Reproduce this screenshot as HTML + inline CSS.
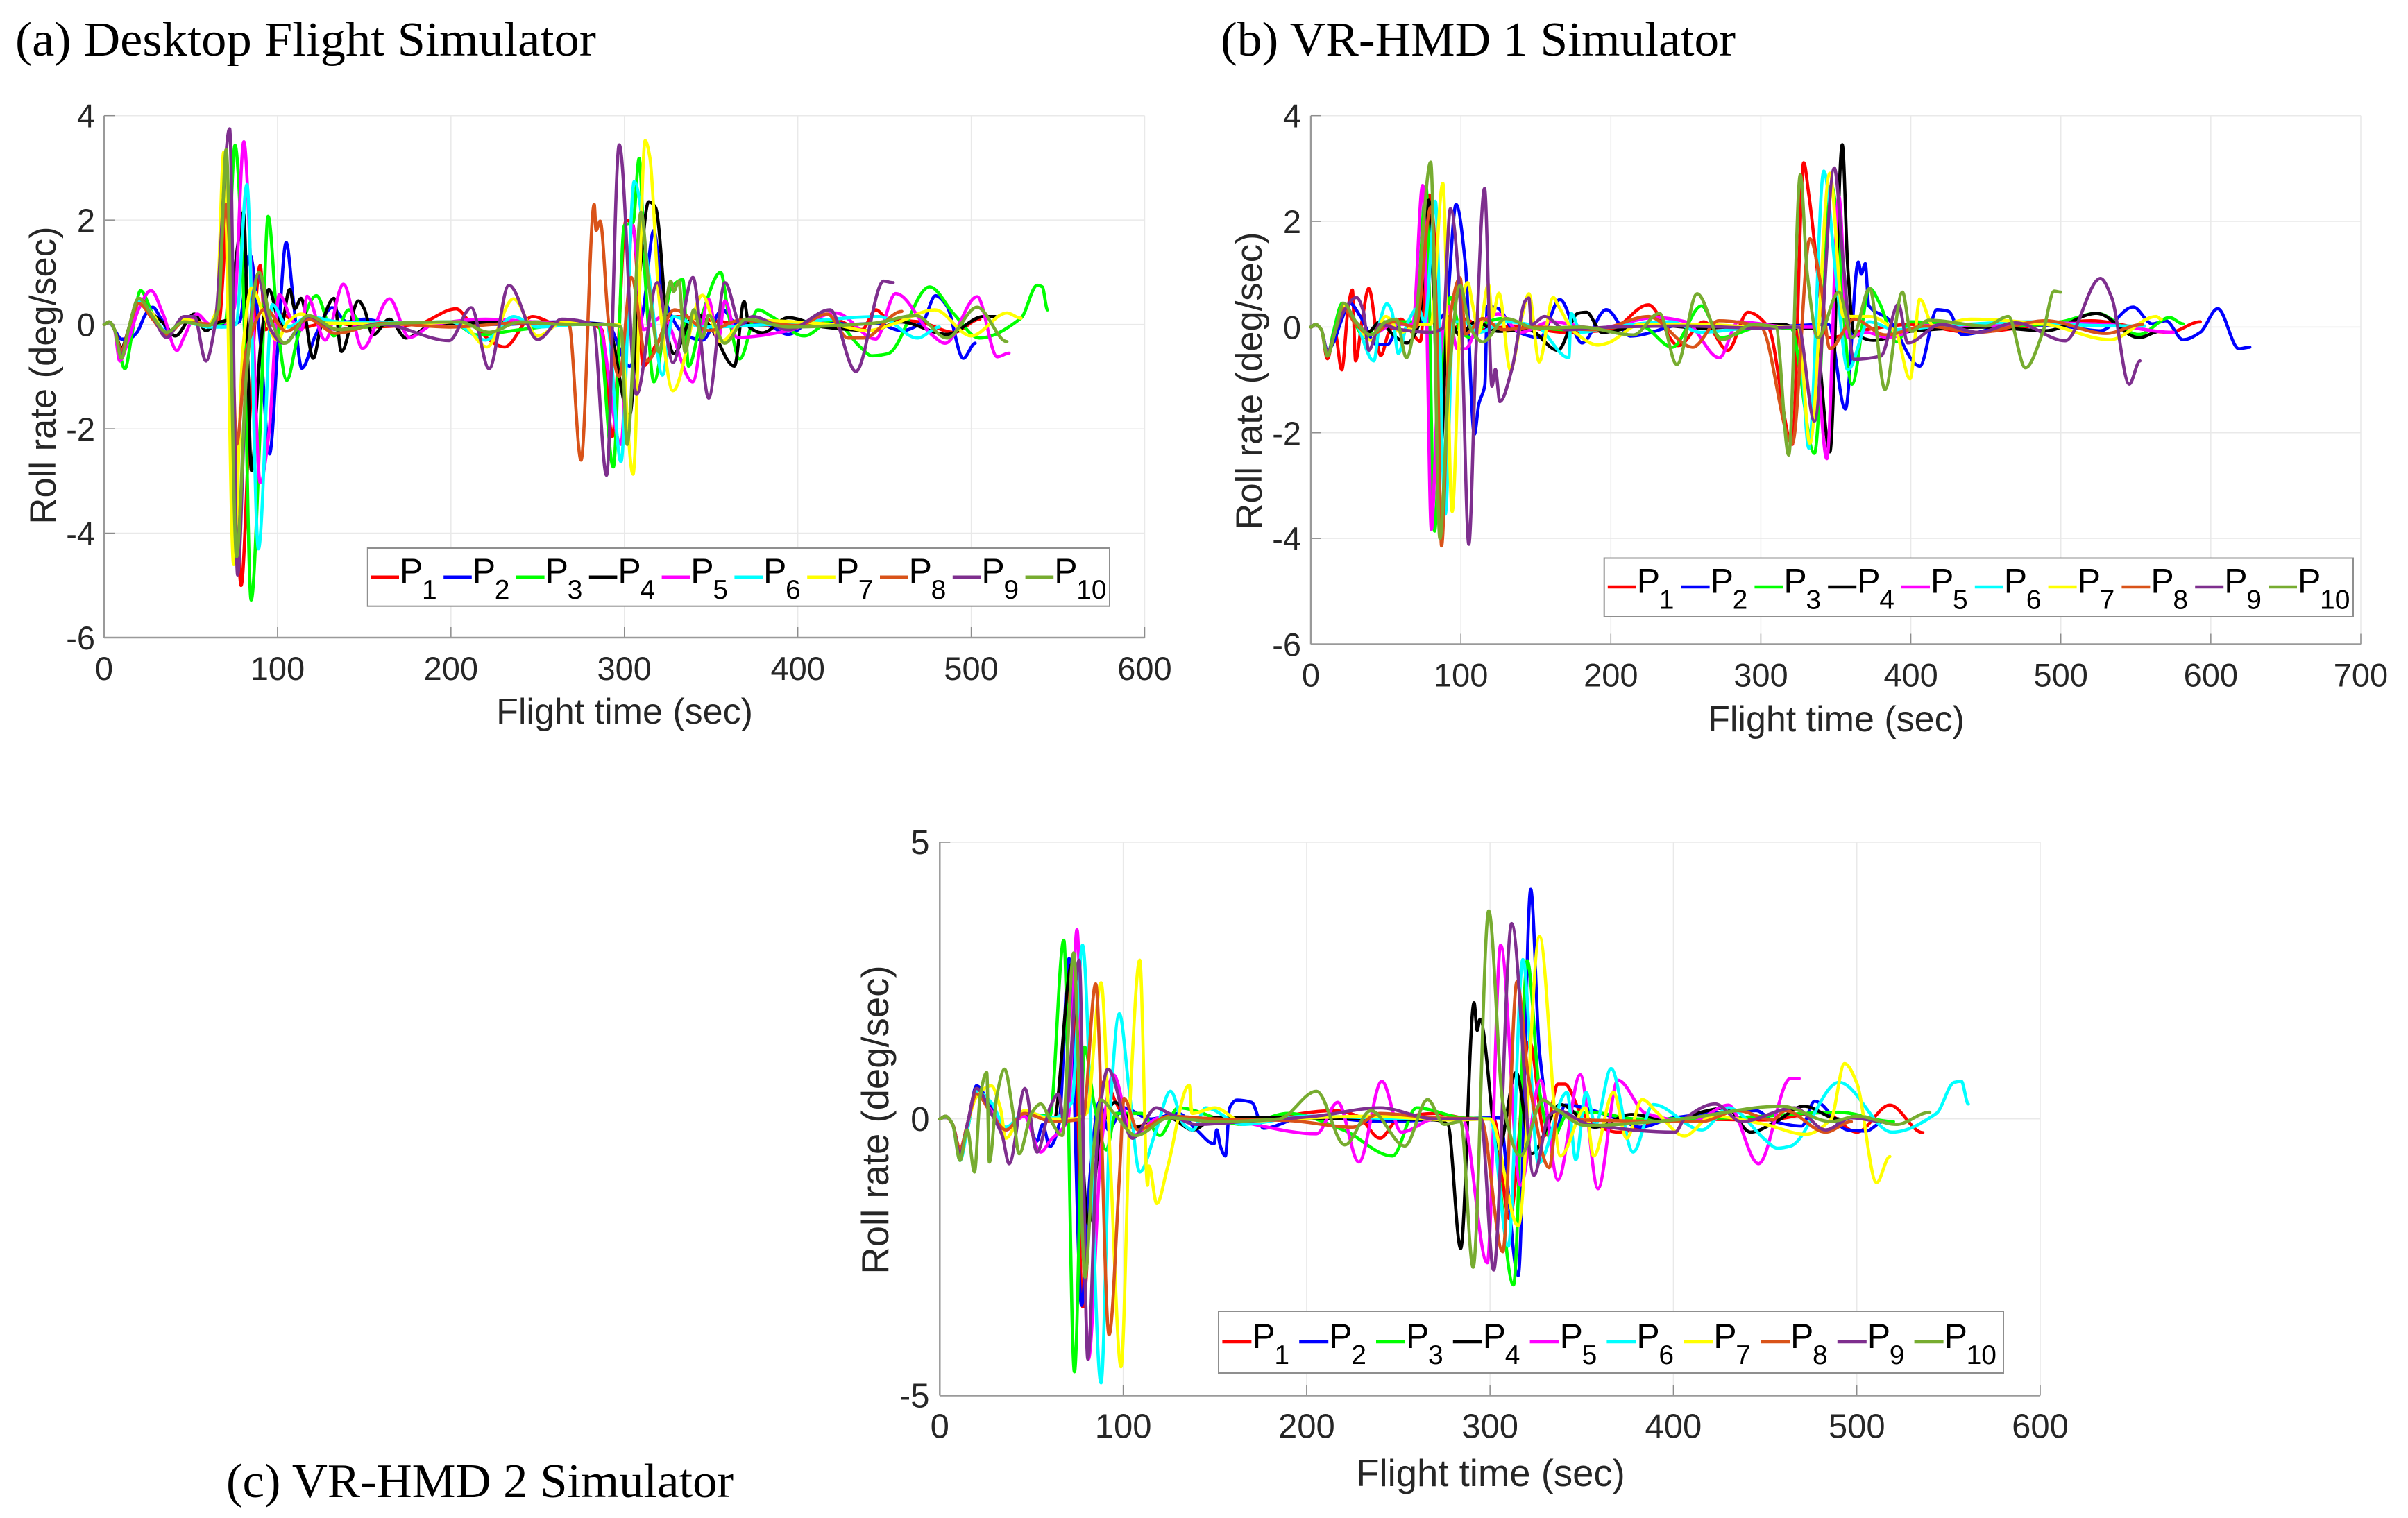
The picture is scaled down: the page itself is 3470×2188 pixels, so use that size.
<!DOCTYPE html>
<html lang="en">
<head>
<meta charset="utf-8">
<title>Roll rate comparison</title>
<style>
html,body{margin:0;padding:0;background:#fff;}
svg{display:block;}
text{font-family:"Liberation Sans",sans-serif;}
.ttl{font-family:"Liberation Serif",serif;font-size:70px;fill:#000;}
</style>
</head>
<body>
<svg id="fig" xmlns="http://www.w3.org/2000/svg" width="3470" height="2188" viewBox="0 0 3470 2188">
<rect x="0" y="0" width="3470" height="2188" fill="#fff"/>
<text class="ttl" x="22" y="80" textLength="837" lengthAdjust="spacingAndGlyphs">(a) Desktop Flight Simulator</text>
<text class="ttl" x="1759" y="80" textLength="742" lengthAdjust="spacingAndGlyphs">(b) VR-HMD 1 Simulator</text>
<text class="ttl" x="326" y="2158" textLength="731" lengthAdjust="spacingAndGlyphs">(c) VR-HMD 2 Simulator</text>
</svg>
<script>
const legendLabels=["1","2","3","4","5","6","7","8","9","10"];
const seriesColors=["#ff0000","#0000ff","#00ff00","#000000","#ff00ff","#00ffff","#ffff00","#d95319","#7e2f8e","#77ac30"];
const xTicksA=[0,100,200,300,400,500,600];
const yTicksA=[4,2,0,-2,-4,-6];
const xTicksB=[0,100,200,300,400,500,600,700];
const yTicksB=[4,2,0,-2,-4,-6];
const xTicksC=[0,100,200,300,400,500,600];
const yTicksC=[5,0,-5];

/* Panel (a) desktop */
const aP1T=[0,3,6,10,14,20,28,36,45,60,66,72,75,79,84,90,93,102,115,130,150,180,203,212,231,247,262,280,287,293,301,305,311,318,330,345,370,400,420,437,445,452,470,490,505];
const aP1V=[0,.05,-.1,-.6,-.1,.5,.2,-.2,.05,0,0,2.4,-1.5,-5,-1.8,1.13,-.1,.2,-.05,.05,-.05,0,.3,0,-.43,.15,0,0,-.1,-2.15,2,1.9,-.8,-.4,.15,.1,0,-.05,.1,-.1,.28,.1,.05,-.15,.1];
const aP2T=[0,3,6,10,14,19,24,28,33,38,45,60,72,78,84,90,95.4,100,105,109,114,122,131.5,140,150,165,200,230,262,290,303,311,317,322,335,345,356.6,365,380,394.5,410,430,445,460,472,479.4,486,495.4,502.3];
const aP2V=[0,.05,-.1,-.28,-.28,-.15,.2,.33,.1,-.15,.05,0,0,.05,1.34,-.3,-2.48,-.5,1.57,.5,-.84,-.2,.32,.05,.1,.02,.02,0,.05,0,-.8,.3,1.8,.6,-.2,-.3,.28,0,.02,-.19,.1,0,.02,-.12,.05,.55,.35,-.65,-.36];
const aP3T=[0,3,6,12,16,21,28,36,45,60,70,75.5,80,84.8,90,94.6,100,105.3,112,122.4,132.6,141,150,165,200,215,240,270,285,293.6,300,305,308.5,312,317,327,333.7,337,345,355.5,360,366.5,377,385,403.7,420,436,442.7,452,476,490,504.6,528.7,538,541,544];
const aP3V=[0,.05,-.1,-.85,-.2,.65,.2,-.2,.05,0,.05,3.43,1,-5.28,-2,2.07,0,-1.07,-.2,.55,-.22,.28,-.05,0,.05,-.2,-.1,0,0,-2.73,1.9,1.95,3.18,.9,-1.1,.7,.86,-.8,.2,1,.2,-.66,.28,.15,-.22,.08,-.43,-.6,-.56,.72,.2,-.26,.12,.75,.72,.28];
const aP4T=[0,3,6,10,14,20,28,35,41,52,58.7,65,72,77,80.4,85,90,95,102,107,110,113.6,120.6,125,132.6,136.8,146.7,150,155,164.5,174,190,240,290,303,309,314,318,325.7,328.4,340.6,349,363.5,369,372,379.6,394.5,415,442.7,459,486,507,513.8];
const aP4V=[0,.05,-.1,-.46,-.1,.45,.2,0,-.22,.2,-.12,.03,.1,1.5,2.15,-2.8,-.5,.67,-.04,.67,.3,.5,-.65,-.04,.5,-.52,.45,.3,-.2,.1,-.26,0,.05,0,-1.75,1,2.35,2.24,-.33,-.56,.22,-.02,-.8,.44,-.05,-.16,.13,-.05,-.12,.05,-.19,.15,.15];
const aP5T=[0,3,6,9,14,20,27,34,42,46,53.6,60,68,75,80.6,85,90,95,101,108,114,117,127.5,138,149,164.5,176,190,220,262,285,298,304.6,311,322,339.4,348.6,354,358,365,394.5,422,445,456.4,478,485,503.4,515,521.8];
const aP5V=[0,.05,-.1,-.7,-.3,.3,.65,.2,-.5,-.25,.2,.02,-.05,.3,3.5,.8,-3.03,-2.1,.57,.1,-.1,.54,-.3,.77,-.46,.49,-.25,0,.1,.02,0,-2.3,1.9,-.1,.15,-1.1,.48,-.33,.45,-.25,-.12,.22,-.28,.59,-.22,-.36,.53,-.62,-.55];
const aP6T=[0,3,6,10,14,20,28,36,46,60,70,76,82.4,89,97,106,118,135,160,200,220,236,250,275,290,298,305.7,314,322,328,345,385,447,469,481.6];
const aP6V=[0,.05,-.1,-.55,-.1,.45,.2,-.15,.05,-.05,-.05,0,2.68,-4.3,.38,-.05,.15,.05,.03,.05,-.3,.15,-.05,0,0,-2.63,2.74,1,-.97,.15,-.05,0,.15,-.26,-.05];
const aP7T=[0,3,6,10,14,20,28,36,46,60,65,69,74.7,80,85,92,99.7,106,113.6,125,140,170,205,220.7,236,250,265,285,297,305,312,314.7,320,328,345,355.5,370,420,440,456,479,500,520.6,528.7];
const aP7V=[0,.05,-.1,-.55,-.1,.4,.2,-.2,.1,0,.3,3.3,-4.6,-.5,.7,.2,-.3,.05,.2,.03,.02,0,.05,-.43,.49,-.22,.05,0,0,-2.87,3.52,3.2,.5,-1.27,.56,-.33,.08,0,-.12,.02,.28,-.22,.22,.12];
const aP8T=[0,3,6,10,14,20,28,36,46,64,70.4,73,76.4,82,93,105,118,133.5,160,200,240,268,275,282.6,283.7,286,291,297,304,313,329,348.6,367,400,417,429,438,460];
const aP8V=[0,.05,-.1,-.5,-.1,.4,.1,-.2,.05,0,2.3,1,-2.3,-.5,.3,-.13,.1,-.17,.02,-.05,.03,0,-2.6,2.3,1.8,1.98,0,-1,.9,-.7,.28,-.12,.08,-.02,.2,-.26,-.26,.25];
const aP9T=[0,3,6,10,14,20,28,36,46,52,58.7,64,72.4,77,82,88.4,96,103.6,118,134,160,199,211.7,222,233.4,250,264,282,289.7,297,307,319,328,339.5,348.6,358,367,374,394.5,418.6,433.5,449.5,455];
const aP9V=[0,.05,-.1,-.6,-.1,.5,.15,-.25,.15,.15,-.7,0,3.75,-4.8,-1,.93,-.1,-.36,.15,-.1,0,-.31,.32,-.85,.75,-.29,.1,0,-2.89,3.44,-1.34,.8,-.73,.9,-1.41,.8,0,.15,-.1,.28,-.9,.83,.8];
const aP10T=[0,3,6,10,14,20,28,36,46,60,66,70.4,76.4,82,89.3,96,104.3,117.6,135,165,205,222,240,265,290,298,301.6,309.6,314,320,326.8,328.4,331.4,335,340,345,348.6,357.8,370,395,442.7,468,486,503.4,520.6];
const aP10V=[0,.05,-.1,-.65,-.1,.5,.15,-.15,.05,-.03,.3,3.35,-4.45,-1,1,.1,-.36,.17,-.1,.02,.05,-.15,.05,0,0,-.05,-2.3,2.15,.8,-.53,.83,.63,.83,-.53,.28,-.26,.18,-.36,.1,-.05,.02,.17,-.26,.33,-.33];

/* Panel (b) VR-HMD 1 */
const bP1T=[0,3,7,11,16,20.6,25,27.7,29.8,34,38.6,46.6,52,60,66,73,79,84,88.4,94,103,115,135,170,200,225,245,262,278,291.4,305,321,328.6,332,345,370,400,440,490,520,572.6,593];
const bP1V=[0,.05,-.05,-.6,-.1,-.81,.4,.7,-.64,.1,.73,-.54,-.1,.15,-.05,-.27,2.5,1,-2.75,-.2,.15,-.05,.02,-.1,-.05,.42,-.35,.1,-.44,.28,0,-2.22,3.11,2.5,-.2,-.05,.05,-.1,.05,.12,-.1,.1];
const bP2T=[0,3,7,11,15,20,26,33,44,51,60,72,82,90,96.8,103,109,112,116,117.6,125,135,152.8,166,180.8,197,213,250,300,345,356.4,365,367,369.6,372,385,406,417.4,425,434,470,500,526.4,548.2,561,570,581.5,593,604.6,618.7,626];
const bP2V=[0,.05,-.05,-.45,-.3,.1,.45,.2,-.33,-.33,.1,.1,.1,.3,2.32,1.2,-2.03,-1.45,-1.1,.39,.35,-.05,-.2,.52,-.3,.33,-.17,.05,0,.05,-1.55,1.23,1,1.2,.4,.15,-.74,.33,.3,-.14,.05,.02,-.07,.38,.06,.12,-.24,-.1,.35,-.41,-.38];
const bP3T=[0,3,7,11,15,21,28,36,46,60,70,76.8,82.5,87,93,100,107,118,127,145,170,220,241,260.5,273,300,320,335.7,347,360.8,372.6,379,390.5,400,430,470,500,524,552,572.6,581.5];
const bP3V=[0,.05,-.05,-.55,-.1,.45,.15,-.2,.1,.1,.1,2.67,-3.86,-1,.56,-.1,-.2,.1,.16,.03,-.05,.02,-.38,.4,-.2,0,-.03,-2.39,2.68,-1.08,.73,.46,-.28,.1,.05,.02,.1,.26,-.14,.18,.06];
const bP4T=[0,3,7,11,16,22,30,38,46,55,64,72,78.6,82,86,91.4,99,110,125,145,164.6,178,183.8,194,225,260,290,315,325,336,346,354.3,358,362,375,400,450,490,523.8,552,566];
const bP4V=[0,.05,-.05,-.5,-.1,.4,.1,-.1,.1,-.15,-.3,.05,2.4,.5,-2.7,.2,-.15,.1,-.08,-.05,-.44,.26,.28,-.1,.05,-.02,.02,.05,-.03,-.03,-2.36,3.45,1.1,-.1,-.25,-.08,0,-.07,.26,-.2,-.08];
const bP5T=[0,3,7,11,16,22,30,40,55,68,74.5,77,80.3,85,91,97.6,103,112,125,140,160,190,230,250,272.3,285,320,335,344,352,358,370,385,410,450,490,530,575];
const bP5V=[0,.05,-.05,-.5,-.1,.4,.1,-.15,.05,.05,2.68,.5,-3.83,-1,.4,-.41,-.41,.05,.25,-.1,.1,-.02,.18,.1,-.58,.1,0,0,-2.49,2.48,-.2,-.1,-.2,.03,.02,.08,.05,-.1];
const bP6T=[0,3,7,11,16,22,30,42,46,50.6,54,58.3,64,71.4,76,83,89.6,95,102,112,130,150,172,173.5,180,200,240,260,300,325,332,342,350,358,372,390,420,480,520,556];
const bP6V=[0,.05,-.05,-.5,-.1,.4,.1,-.64,.1,.44,.3,-.5,.05,.36,.1,2.38,-3.54,.1,.1,-.1,.1,.02,-.58,.26,-.1,0,.1,-.1,0,0,-2.29,2.95,1,-.81,.1,-.05,.02,.1,.03,.02];
const bP7T=[0,3,7,11,16,22,30,40,50,60,72,80,88,94.2,100,104.5,108,112,118.4,121,125.4,133,140.8,145.4,152.2,161.6,165,176,191.7,198,220,260,300,325,332.7,346,355,372,390,399.5,406,415,440,490,532.8,563.6,567];
const bP7V=[0,.05,-.05,-.5,-.1,.4,.1,-.25,.2,-.1,.05,.05,2.72,-3.49,.3,.84,.4,-.1,.81,.2,.64,-.81,.2,.63,-.66,.56,.4,-.1,-.34,-.3,.05,.05,0,0,-2.2,2.91,.2,.2,-.1,-.98,.53,.02,.15,.05,-.24,.2,.15];
const bP8T=[0,3,7,11,16,22,30,40,55,70,80,84,87.1,93,99.5,103,114.6,128,150,190,225,254.6,272,300,321,332.7,340,346,362,383,410,445,490,530,554.6];
const bP8V=[0,.05,-.05,-.5,-.1,.35,.05,-.15,.1,0,2.27,0,-4.14,.2,.93,-.13,.16,-.05,0,-.05,.2,-.38,.12,0,-2.2,1.67,.8,-.41,.15,-.15,.02,-.1,.12,-.12,.05];
const bP9T=[0,3,7,11,16,22,30.4,35,38.6,46,60,80,88,93,100,105.3,110,115.8,120.7,123,126,134,143,145.4,147,155.8,170,200,250,300,325,335.7,349,355,362,380,391.7,398,420,445,470,503,526.4,534,545.6,552.8];
const bP9V=[0,.05,-.05,-.5,-.1,.3,.56,.3,-.44,.05,-.05,-.1,-.02,2.24,.3,-4.11,-.5,2.62,-1.12,-.8,-1.41,-.8,.5,.55,.05,.2,-.05,0,.02,-.02,0,-1.78,3.01,1.2,-.61,-.55,.43,-.3,.05,-.1,.08,-.26,.92,.55,-1.08,-.64];
const bP10T=[0,3,7,11,16,22,30,40,50,57,63.7,70,79.9,86,92,99.5,106,114.6,130,150,180,215,232.4,244,257.5,273.7,295,310,318.6,326.3,331,338,352,361,372.6,382.8,394.4,400,412,450,465,476.4,488,495.6,500];
const bP10V=[0,.05,-.05,-.55,-.1,.45,.1,-.15,.1,.15,-.58,.2,3.12,-4,-1,.79,0,-.28,.16,-.02,0,-.15,.26,-.71,.63,-.24,.05,0,-2.42,2.88,1,-.2,.66,-.2,.73,-1.18,.66,-.08,.13,.02,.2,-.77,-.1,.68,.66];

/* Panel (c) VR-HMD 2 */
const cP1T=[0,3,7,11,15,20,28,36,46,62,72,78,84,90,96,105,125,170,215,228,240,250,270,290,302,310.6,321.5,330,337,340.8,350,369.7,400,450,482,500,518,536];
const cP1V=[0,.05,-.1,-.6,-.1,.5,.1,-.2,.1,0,2.6,-3.4,-.5,.7,.3,-.15,.02,0,.15,.05,-.35,0,.1,0,0,-1.8,1.4,-.3,.63,.63,.1,-.24,0,-.02,.12,-.24,.25,-.25];
const cP2T=[0,3,7,11,15,20,28,36,46,53,56,60,65,70.5,77.3,82,87,92,100,115,130,140,149.5,151,153,155.7,158,162,170,176.5,200,240,280,305,315.4,322.2,327,334.7,341,370,382,400,445,455,470,477,495,505,514.5];
const cP2V=[0,.05,-.1,-.6,-.2,.6,.2,-.2,.1,-.4,-.1,-.5,-.1,2.9,-3.37,-1,.3,-.2,.2,0,.1,-.2,-.45,-.2,-.5,-.67,.2,.34,.3,-.17,.05,-.05,0,.02,-2.83,4.15,1.2,-.35,.25,0,-.15,.02,.15,-.05,-.13,.32,-.2,-.22,-.05];
const cP3T=[0,3,7,11,15,20,28,36,46,60,67.6,73.4,79,84,90.8,96,110,120,130,165,190,220,246.8,260,285,300,312.8,320.3,327,333.5,343,355,380,430,490,520];
const cP3V=[0,.05,-.1,-.65,-.2,.55,.15,-.2,.1,.05,3.23,-4.57,1.3,.3,-.56,.1,.1,-.3,.2,-.1,.1,-.2,-.67,.2,.02,0,-3,2.86,.5,-.38,.12,.12,0,.02,.12,-.05];
const cP4T=[0,3,7,11,15,20,28,36,46,62,72,81,88,95.6,107,125,138,150,190,240,270,277,284,291.3,293,294.5,304.6,314.2,322.7,338.4,357,377,401,415,429,442,456,471,490];
const cP4V=[0,.05,-.1,-.55,-.1,.55,.15,-.2,.1,-.05,2.8,-1.9,-.2,.3,-.15,.02,-.2,.02,.02,0,-.02,-.1,-2.34,2.1,1.6,1.8,-.57,.84,-.63,.26,-.15,.08,-.04,.12,.2,-.24,-.05,.23,0];
const cP5T=[0,3,7,11,15,20,28,36,46,55,60,70,74.8,81,88,94.6,105,120,150,205.4,217,228.5,241,251.6,270,285,298.5,305.8,316.6,327.5,337,349.2,358.9,369.7,385,410,430,446.4,463.8,468.6];
const cP5V=[0,.05,-.1,-.55,-.1,.5,.15,-.2,.05,-.6,-.4,0,3.42,-4.34,-.5,.8,-.3,.02,0,-.27,.3,-.78,.68,-.24,0,0,-2.6,3.14,-1.2,.7,-1.1,.8,-1.26,.7,.1,-.05,.25,-.81,.73,.73];
const cP6T=[0,3,7,11,15,20,28,36,46,62,72,77.8,87.9,93,97.9,103,109,118,125.8,133,138,145,165,200,260,300,310,317.9,326.3,342,346.8,352.3,357.5,366,378,389,415.6,430,450.5,456.6,464,490.3,519.3,543.4,553,557,560.8];
const cP6V=[0,.05,-.1,-.75,-.2,.5,.3,-.15,.1,.02,.3,3.14,-4.77,.2,1.9,.6,-.96,-.2,.5,-.1,-.2,.2,-.1,.05,0,0,-2.3,2.88,-.8,.48,-.74,.48,-.1,.91,-.6,.26,-.2,.2,-.39,-.53,-.49,.66,-.24,.1,.66,.68,.27];
const cP7T=[0,3,7,11,15,20,28,33,36,46,60,72,80,87.9,93,98.8,104,109,113.3,114,118.3,124,136,137.5,150,165,190,235,280,300,315.4,327,338.4,352,356.5,367.3,374.5,383,391,406,421,450,472,486,493.3,500,510.8,518];
const cP7V=[0,.05,-.1,-.6,-.1,.4,.6,.2,-.35,.15,0,0,.1,2.46,-.8,-4.48,.5,2.87,-1.2,-.85,-1.53,-.9,.61,.1,.2,-.05,0,.05,-.02,0,-1.93,3.3,-.67,.2,-.67,.48,-.35,.35,.12,-.31,.05,-.1,-.28,0,1,.65,-1.15,-.68];
const cP8T=[0,3,7,11,15,20,28,36,46,62,78,85,92.3,98,100.4,108,125,150,190,225,240,270,295,307,314.7,321,332.3,337,350,415,435,454,461,483,497];
const cP8V=[0,.05,-.1,-.55,-.1,.45,.1,-.2,.1,-.05,0,2.44,-3.9,-1,.37,-.2,.05,0,-.03,-.15,.1,.02,0,-2.4,2.48,.75,-.88,.12,-.02,-.05,.15,-.02,.15,-.24,-.05];
const cP9T=[0,3,7,11,15,20,28,34,37.8,46.4,53,60,64.7,68,76,80.7,86,91.7,105,118,125,140,165,205,240,270,295,302,311.8,323.9,332,337,354,401,406,422.8,437,466,483,497,514.5];
const cP9V=[0,.05,-.1,-.65,-.1,.55,.1,-.3,-.81,.55,-.6,.2,.45,-.1,2.87,-4.34,-.3,.9,-.35,.2,.1,-.1,-.05,.05,.2,0,0,-2.73,3.53,-1.02,.05,.15,-.1,-.24,0,.27,-.05,.2,-.2,.02,-.05];
const cP10T=[0,3,7,11,15,18.9,22,25.6,27,31,35.3,40,43.2,50,55,60,66.7,73,79.2,84,87.9,95,107,125,150,185,205.4,220.8,235,253.6,266,275,284,290.8,299.3,307,316.6,328.7,336,352,400,459,486,500,521.7,539.8];
const cP10V=[0,.05,-.1,-.75,-.2,-.96,.4,.84,-.78,.4,.9,.1,-.63,.1,.27,0,-.3,3,-2.86,-.5,.34,.1,-.3,.02,-.05,0,.5,-.47,.15,-.49,.35,-.1,-.05,-2.68,3.76,.3,-.67,.34,.18,-.12,-.02,.23,-.05,.05,-.1,.12];

const seriesA=[[aP1T,aP1V],[aP2T,aP2V],[aP3T,aP3V],[aP4T,aP4V],[aP5T,aP5V],[aP6T,aP6V],[aP7T,aP7V],[aP8T,aP8V],[aP9T,aP9V],[aP10T,aP10V]];
const seriesB=[[bP1T,bP1V],[bP2T,bP2V],[bP3T,bP3V],[bP4T,bP4V],[bP5T,bP5V],[bP6T,bP6V],[bP7T,bP7V],[bP8T,bP8V],[bP9T,bP9V],[bP10T,bP10V]];
const seriesC=[[cP1T,cP1V],[cP2T,cP2V],[cP3T,cP3V],[cP4T,cP4V],[cP5T,cP5V],[cP6T,cP6V],[cP7T,cP7V],[cP8T,cP8V],[cP9T,cP9V],[cP10T,cP10V]];

const NS="http://www.w3.org/2000/svg";
const fig=document.getElementById("fig");
function el(tag,parent,attrs){
  const e=document.createElementNS(NS,tag);
  for(const k in attrs){e.setAttribute(k,attrs[k]);}
  parent.appendChild(e);
  return e;
}
function smoothPath(xs,ys){
  const n=Math.min(xs.length,ys.length);
  const m=[];
  for(let i=0;i<n;i++){
    if(i===0||i===n-1){m.push(0);continue;}
    const d0=(ys[i]-ys[i-1])/((xs[i]-xs[i-1])||1);
    const d1=(ys[i+1]-ys[i])/((xs[i+1]-xs[i])||1);
    m.push(d0*d1<=0?0:2*d0*d1/(d0+d1));
  }
  let d="M"+xs[0].toFixed(1)+" "+ys[0].toFixed(1);
  for(let i=0;i<n-1;i++){
    const h=(xs[i+1]-xs[i])/3;
    d+="C"+(xs[i]+h).toFixed(1)+" "+(ys[i]+m[i]*h).toFixed(1)+" "+(xs[i+1]-h).toFixed(1)+" "+(ys[i+1]-m[i+1]*h).toFixed(1)+" "+xs[i+1].toFixed(1)+" "+ys[i+1].toFixed(1);
  }
  return d;
}
function drawPanel(id,p,series,xTicks,yTicks){
  const g=el("g",fig,{});
  
  
  const xMin=xTicks[0],xMax=xTicks[xTicks.length-1];
  const yMax=yTicks[0],yMin=yTicks[yTicks.length-1];
  const xScale=function(t){return p.x0+(t-xMin)*(p.x1-p.x0)/(xMax-xMin);};
  const yScale=function(v){return p.yBottom+(v-yMin)*(p.yTop-p.yBottom)/(yMax-yMin);};
  xTicks.forEach(function(t){
    const x=xScale(t);
    const gl=el("line",g,{x1:x,x2:x,y1:p.yTop,y2:p.yBottom,stroke:"#e9e9e9","stroke-width":1.5});
    
    
    const tk=el("line",g,{x1:x,x2:x,y1:p.yBottom,y2:p.yBottom-15,stroke:"#8c8c8c","stroke-width":1.5});
    
    
    const lb=el("text",g,{x:x,y:p.yBottom+61,"text-anchor":"middle","font-size":p.tickFont,fill:"#262626"});
    
    
    lb.textContent=t;
  });
  yTicks.forEach(function(v){
    const y=yScale(v);
    const gl=el("line",g,{x1:p.x0,x2:p.x1,y1:y,y2:y,stroke:"#e9e9e9","stroke-width":1.5});
    
    
    const tk=el("line",g,{x1:p.x0,x2:p.x0+15,y1:y,y2:y,stroke:"#8c8c8c","stroke-width":1.5});
    
    
    const lb=el("text",g,{x:p.yLabelRight,y:y+17,"text-anchor":"end","font-size":p.tickFont,fill:"#262626"});
    
    
    lb.textContent=v;
  });
  const xAxis=el("line",g,{x1:p.x0,x2:p.x1,y1:p.yBottom,y2:p.yBottom,stroke:"#9a9a9a","stroke-width":2.5});
  
  
  const yAxis=el("line",g,{x1:p.x0,x2:p.x0,y1:p.yTop,y2:p.yBottom,stroke:"#9a9a9a","stroke-width":2.5});
  
  
  series.forEach(function(s,i){
    const xs=s[0].map(xScale);
    const ys=s[1].map(yScale);
    const path=el("path",g,{d:smoothPath(xs,ys),fill:"none",stroke:seriesColors[i],"stroke-width":4.6,"stroke-linejoin":"round","stroke-linecap":"round"});
    
    
  });
  const xt=el("text",g,{x:p.xTitleX,y:p.xTitleY,"text-anchor":"middle","font-size":p.xTitleFont,fill:"#262626"});
  
  
  xt.textContent="Flight time (sec)";
  const yt=el("text",g,{transform:"translate("+p.yTitleX+" "+p.yTitleY+") rotate(-90)","text-anchor":"middle","font-size":p.yTitleFont,fill:"#262626"});
  
  
  yt.textContent="Roll rate (deg/sec)";
  const lg=el("g",g,{});
  
  
  const box=el("rect",lg,{x:p.lgL,y:p.lgT,width:p.lgR-p.lgL,height:p.lgB-p.lgT,fill:"#fff",stroke:"#8f8f8f","stroke-width":2});
  
  
  legendLabels.forEach(function(lab,i){
    const sx=p.lgS+p.lgStep*i;
    const sm=el("line",lg,{x1:sx,x2:sx+p.lgW,y1:p.lgY,y2:p.lgY,stroke:seriesColors[i],"stroke-width":4.5});
    
    
    const t1=el("text",lg,{x:sx+p.lgW+1,y:p.lgBase,"font-size":50,fill:"#000"});
    
    
    t1.textContent="P";
    const t2=el("text",lg,{x:sx+p.lgW+33,y:p.lgBase+23,"font-size":39,fill:"#000"});
    
    
    t2.textContent=lab;
  });
}
drawPanel("a",{x0:150,x1:1649.5,yTop:166.7,yBottom:919,yLabelRight:137,tickFont:47,xTitleFont:52,yTitleFont:52.5,xTitleX:900,xTitleY:1043,yTitleX:80,yTitleY:541,lgL:529.8,lgR:1599,lgT:790,lgB:873.7,lgS:534.4,lgStep:104.8,lgW:40.6,lgY:831.7,lgBase:840},seriesA,xTicksA,yTicksA);
drawPanel("b",{x0:1889,x1:3402,yTop:166.7,yBottom:928.5,yLabelRight:1875,tickFont:47,xTitleFont:52,yTitleFont:52.5,xTitleX:2646,xTitleY:1054,yTitleX:1818,yTitleY:549,lgL:2311.7,lgR:3391,lgT:804.5,lgB:889,lgS:2316.8,lgStep:105.8,lgW:41,lgY:846,lgBase:854.5},seriesB,xTicksB,yTicksB);
drawPanel("c",{x0:1354.3,x1:2940,yTop:1214,yBottom:2011.5,yLabelRight:1339.5,tickFont:49,xTitleFont:54.5,yTitleFont:54.5,xTitleX:2148,xTitleY:2142,yTitleX:1280,yTitleY:1614,lgL:1756,lgR:2887,lgT:1890,lgB:1979,lgS:1761.4,lgStep:110.8,lgW:42,lgY:1934,lgBase:1943},seriesC,xTicksC,yTicksC);
</script>
</body>
</html>
